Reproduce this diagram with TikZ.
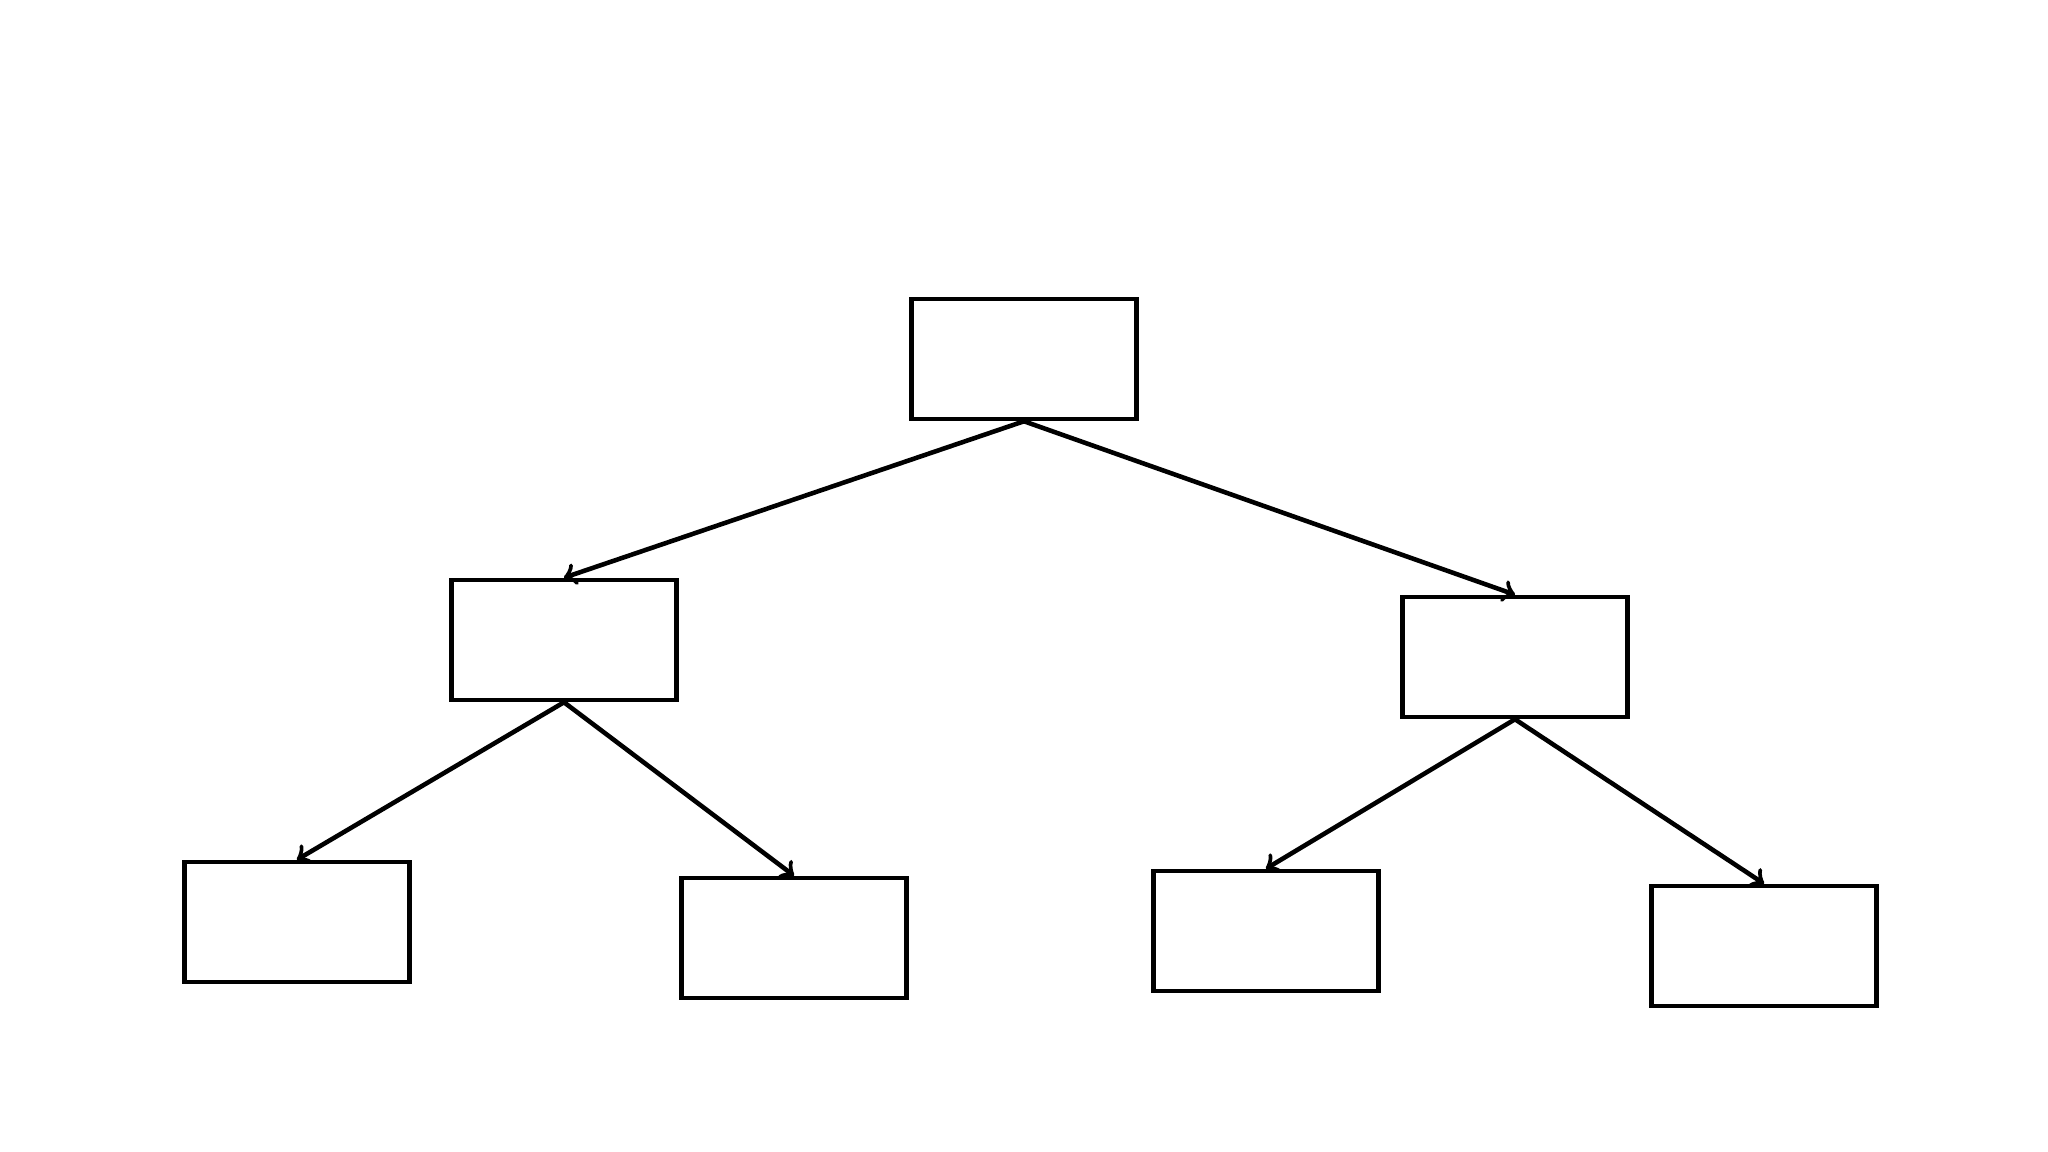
\documentclass[tikz,border=0pt]{standalone}
\begin{document}
\begin{tikzpicture}
    [line width=1.3pt,every node/.style={rectangle,draw,minimum width=2.25cm,minimum height=1.2cm,inner sep=0pt}]
    \useasboundingbox (0,0) rectangle (20.48,11.52);
    \node (root) at (10.24,7.93)  {};
    \node (left) at (5.64,5.12)  {};
    \node (right) at (15.15,4.95) {};
    \node (leftleft) at (2.97,2.30)  {};
    \node (leftright) at (7.94,2.14)  {};
    \node (rightleft) at (12.66,2.21)  {};
    \node (rightright) at (17.64,2.06)  {};
    \foreach \from/\to in {root/left,root/right,left/leftleft,left/leftright,right/rightleft,right/rightright}
      \draw[->] (\from.south) -- (\to.north);
  \end{tikzpicture}
\end{document}
